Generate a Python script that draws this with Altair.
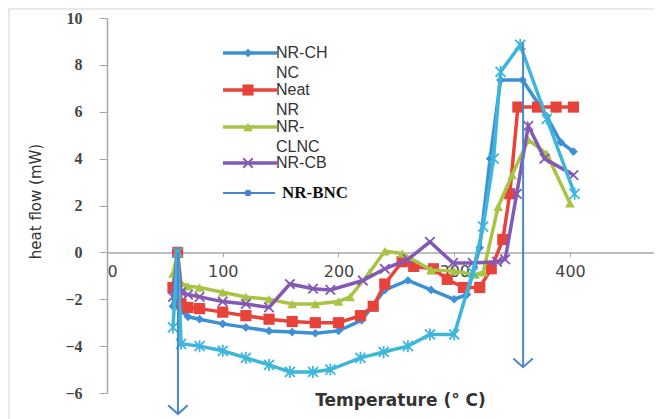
import altair as alt
import pandas as pd

# ---------------- data ----------------
chnc_t = [57, 61, 64, 70, 80, 100, 120, 140, 160, 180, 200, 220, 240, 260, 280, 300, 311, 322, 331, 340, 359, 380, 392, 403]
chnc_v = [-2.3, 0.0, -2.5, -2.75, -2.85, -3.05, -3.2, -3.35, -3.4, -3.45, -3.35, -2.9, -1.6, -1.2, -1.6, -2.0, -1.8, 0.2, 4.0, 7.35, 7.35, 5.8, 4.7, 4.3]

neat_t = [57, 61, 64, 70, 80, 100, 120, 140, 160, 180, 200, 219, 230, 240, 255, 265, 282, 294, 308, 322, 332, 342, 348, 355, 372, 388, 403]
neat_v = [-1.5, 0.0, -2.2, -2.35, -2.4, -2.55, -2.7, -2.85, -2.95, -3.0, -3.0, -2.7, -2.3, -1.35, -0.4, -0.6, -0.7, -1.15, -1.5, -1.5, -0.7, 0.55, 2.5, 6.2, 6.2, 6.2, 6.2]

clnc_t = [57, 61, 64, 70, 80, 100, 120, 140, 160, 180, 200, 210, 227, 240, 255, 280, 300, 318, 325, 338, 350, 364, 380, 400]
clnc_v = [-0.9, 0.0, -1.3, -1.45, -1.5, -1.7, -1.9, -2.0, -2.2, -2.2, -2.1, -1.9, -0.85, 0.05, -0.05, -0.75, -0.8, -0.95, -0.85, 1.95, 3.3, 4.8, 4.2, 2.1]

cb_t = [57, 61, 64, 70, 80, 100, 120, 140, 158, 178, 193, 221, 240, 260, 279, 299, 316, 337, 344, 354, 364, 378, 403]
cb_v = [-1.9, 0.0, -1.7, -1.8, -1.9, -2.1, -2.2, -2.35, -1.35, -1.55, -1.6, -1.2, -0.7, -0.3, 0.45, -0.45, -0.45, -0.4, -0.3, 2.5, 5.4, 4.0, 3.3]

bnc_t = [57, 61, 64, 80, 100, 120, 140, 158, 178, 193, 219, 239, 260, 279, 300, 316, 325, 334, 340, 357, 380, 404]
bnc_v = [-3.2, 0.0, -3.9, -4.0, -4.2, -4.5, -4.8, -5.1, -5.1, -5.0, -4.5, -4.25, -4.0, -3.5, -3.5, -0.85, 1.1, 4.0, 7.7, 8.85, 5.7, 2.5]

# annotation arrows (temperature, top value, tip value)
arrow_t = [61.3, 359.5]
arrow_top = [0.0, 8.95]
arrow_tip = [-6.9, -4.9]

x_ticks = [0, 100, 200, 300, 400]
y_ticks = [-6, -4, -2, 0, 2, 4, 6, 8, 10]

# ---------------- styling ----------------
C_CHNC = "#3d8fd6"
C_NEAT = "#e8433b"
C_CLNC = "#a9c444"
C_CB = "#8458b5"
C_BNC = "#3db6dc"
C_ARROW = "#4a88cc"

X_PATH = "M-1,-1L1,1M-1,1L1,-1"
STAR_PATH = "M-1,-1L1,1M-1,1L1,-1M0,-1.2L0,1.2"
CHEVRON = "M-1,-0.9L0,0L1,-0.9"

series = [
    ("NR-CHNC", chnc_t, chnc_v, C_CHNC, "diamond", 75, True),
    ("Neat NR", neat_t, neat_v, C_NEAT, "square", 125, True),
    ("NR-CLNC", clnc_t, clnc_v, C_CLNC, "triangle-up", 95, True),
    ("NR-CB", cb_t, cb_v, C_CB, X_PATH, 90, False),
    ("NR-BNC", bnc_t, bnc_v, C_BNC, STAR_PATH, 100, False),
]

x_scale = alt.Scale(domain=[0, 472.6], nice=False, zero=False)
y_scale = alt.Scale(domain=[-6, 10], nice=False, zero=False)

x_axis = alt.Axis(
    values=x_ticks, offset=-140.6, grid=False,
    domainColor="#a8a8a8", domainWidth=1.5, tickColor="#a8a8a8", tickSize=4,
    labelFont="DejaVu Sans", labelFontSize=16, labelColor="#444444", labelPadding=7,
    title="Temperature (° C)", titleFont="DejaVu Sans", titleFontSize=17,
    titleFontWeight="bold", titleColor="#333333", titleX=293, titleY=148,
    titleBaseline="middle", titleAlign="center",
)
y_axis = alt.Axis(
    values=y_ticks, grid=False,
    domainColor="#a8a8a8", domainWidth=1.5, tickColor="#a8a8a8", tickSize=8,
    labelFont="Liberation Serif", labelFontSize=16, labelFontWeight="bold",
    labelColor="#444444", labelPadding=17,
    title="heat flow (mW)", titleFont="DejaVu Sans", titleFontSize=15,
    titleFontWeight="normal", titleColor="#333333", titleAngle=-90,
    titleX=-72, titleY=183, titleAlign="center", titleBaseline="middle",
)

xenc = alt.X("temp:Q", scale=x_scale, axis=x_axis, title="Temperature (° C)")
yenc = alt.Y("flow:Q", scale=y_scale, axis=y_axis, title="heat flow (mW)")

layers = []

# faint chart-area frame
one = pd.DataFrame({"k": [0]})
frame = alt.Chart(one).mark_rect(fillOpacity=0, stroke="#e2e2e2", strokeWidth=1.5).encode(
    x=alt.value(-98), x2=alt.value(620), y=alt.value(-9), y2=alt.value(430)
)
layers.append(frame)

for name, ts, vs, color, shape, size, filled in series:
    df = pd.DataFrame({"temp": ts, "flow": vs, "idx": list(range(len(ts)))})
    base = alt.Chart(df).encode(x=xenc, y=yenc, order="idx:Q")
    line = base.mark_line(color=color, strokeWidth=3.5)
    if filled:
        pts = base.mark_point(shape=shape, size=size, filled=True, color=color, opacity=1)
    else:
        pts = base.mark_point(shape=shape, size=size, filled=False, color=color,
                              strokeWidth=1.8, opacity=1)
    layers += [line, pts]

# arrows
adf = pd.DataFrame({"temp": arrow_t, "flow": arrow_top, "tip": arrow_tip})
arrow_line = alt.Chart(adf).mark_rule(color=C_ARROW, strokeWidth=2).encode(
    x=xenc, y=yenc, y2="tip:Q",
)
arrow_head = alt.Chart(adf).mark_point(shape=CHEVRON, size=380, filled=False,
                                       color=C_ARROW, strokeWidth=2, opacity=1).encode(
    x=xenc,
    y=alt.Y("tip:Q", scale=y_scale, axis=y_axis, title="heat flow (mW)"),
)
layers += [arrow_line, arrow_head]

# manual legend (inside plot, top-left)
leg = [
    (["NR-CH", "NC"], C_CHNC, "diamond", 75, True, 35),
    (["Neat", "NR"], C_NEAT, "square", 125, True, 72),
    (["NR-", "CLNC"], C_CLNC, "triangle-up", 95, True, 109),
    (["NR-CB"], C_CB, X_PATH, 90, False, 145),
]
for lines, color, shape, size, filled, yy in leg:
    layers.append(alt.Chart(one).mark_rule(color=color, strokeWidth=3.5).encode(
        x=alt.value(116), x2=alt.value(170), y=alt.value(yy)))
    if filled:
        layers.append(alt.Chart(one).mark_point(shape=shape, size=size, filled=True,
                                                color=color, opacity=1).encode(
            x=alt.value(141), y=alt.value(yy)))
    else:
        layers.append(alt.Chart(one).mark_point(shape=shape, size=size, filled=False,
                                                color=color, strokeWidth=1.8, opacity=1).encode(
            x=alt.value(141), y=alt.value(yy)))
    for k, txt in enumerate(lines):
        layers.append(alt.Chart(one).mark_text(
            text=txt, align="left", baseline="middle", font="Liberation Sans",
            fontSize=16, color="#333333").encode(
            x=alt.value(169), y=alt.value(yy + 20 * k)))

# NR-BNC legend entry
layers.append(alt.Chart(one).mark_rule(color=C_ARROW, strokeWidth=2).encode(
    x=alt.value(116), x2=alt.value(168), y=alt.value(175)))
layers.append(alt.Chart(one).mark_point(shape="circle", size=45, filled=True,
                                        color=C_ARROW, opacity=1).encode(
    x=alt.value(141), y=alt.value(175)))
layers.append(alt.Chart(one).mark_text(
    text="NR-BNC", align="left", baseline="middle", font="Liberation Serif",
    fontSize=17, fontWeight="bold", color="#111111").encode(
    x=alt.value(175), y=alt.value(175)))

chart = alt.layer(*layers).properties(
    width=547, height=375,
    autosize=alt.AutoSizeParams(type="none"),
    padding={"left": 99, "top": 10, "right": 0, "bottom": 26},
).configure_view(strokeWidth=0)

chart.save("out.html", embed_options={"renderer": "svg", "actions": False})
